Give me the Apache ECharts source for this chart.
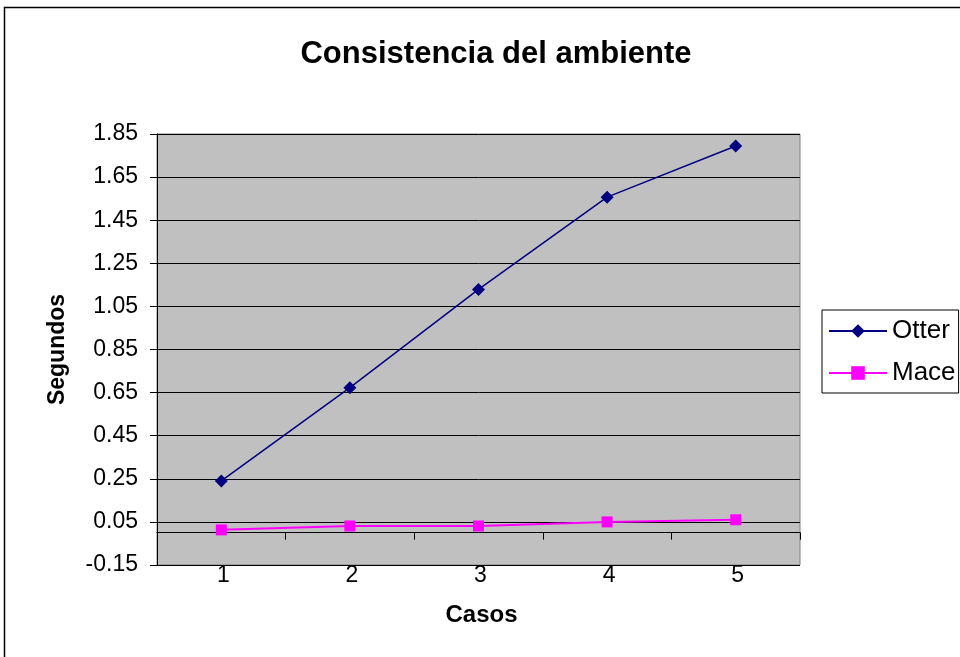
<!DOCTYPE html>
<html>
<head>
<meta charset="utf-8">
<script src="https://cdn.jsdelivr.net/npm/echarts@6/dist/echarts.min.js"></script>
<style>
  html, body { margin: 0; padding: 0; background: #fff; }
  #chart { width: 960px; height: 657px; }
</style>
</head>
<body>
<div id="chart"></div>
<script>
// datos
const casos = ['1', '2', '3', '4', '5']
const otter = [0.24, 0.673, 1.129, 1.557, 1.794]
const mace = [0.013, 0.031, 0.031, 0.05, 0.06]

const font = 'Liberation Sans, Arial, sans-serif'

const chart = echarts.init(document.getElementById('chart'))

chart.setOption({
  animation: false,
  backgroundColor: '#fff',
  textStyle: { fontFamily: font },
  title: {
    text: 'Consistencia del ambiente',
    left: 491,
    top: 34,
    textAlign: 'center',
    textStyle: { fontFamily: font, fontSize: 31, fontWeight: 'bold', color: '#000' }
  },
  // marco exterior
  graphic: [{
    type: 'rect',
    shape: { x: 4.5, y: 7.5, width: 1000, height: 700 },
    style: { fill: 'none', stroke: '#000', lineWidth: 1.5 },
    silent: true
  }],
  legend: {
    orient: 'vertical',
    left: 822,
    top: 310,
    padding: [8, 3, 7, 6],
    itemGap: 16,
    itemWidth: 58,
    itemHeight: 17,
    borderColor: '#000',
    borderWidth: 1,
    textStyle: { fontFamily: font, fontSize: 26, color: '#000' },
    data: ['Otter', 'Mace']
  },
  grid: {
    left: 157,
    right: 160,
    top: 134,
    bottom: 92,
    show: true,
    backgroundColor: '#C0C0C0',
    borderColor: '#808080',
    borderWidth: 1
  },
  xAxis: [
    {
      // eje en cero con marcas
      type: 'category',
      data: casos,
      boundaryGap: true,
      axisLine: { onZero: true, lineStyle: { color: '#000', width: 1 } },
      axisTick: { show: true, length: 7, lineStyle: { color: '#000' } },
      axisLabel: { show: false },
      splitLine: { show: false }
    },
    {
      // etiquetas abajo
      type: 'category',
      data: casos,
      position: 'bottom',
      boundaryGap: true,
      name: 'Casos',
      nameLocation: 'middle',
      nameGap: 38,
      nameTextStyle: { fontFamily: font, fontSize: 24, fontWeight: 'bold', color: '#000', padding: [0, 0, 0, 6] },
      axisLine: { show: false, onZero: false },
      axisTick: { show: false },
      axisLabel: { fontFamily: font, fontSize: 23, color: '#000', margin: -1, padding: [0, 0, 0, 4] },
      splitLine: { show: false }
    }
  ],
  yAxis: {
    type: 'value',
    min: -0.15,
    max: 1.85,
    interval: 0.2,
    name: 'Segundos',
    nameLocation: 'middle',
    nameGap: 88,
    nameTextStyle: { fontFamily: font, fontSize: 23, fontWeight: 'bold', color: '#000' },
    axisLine: { show: true, lineStyle: { color: '#000', width: 1 } },
    axisTick: { show: true, length: 7, lineStyle: { color: '#000' } },
    axisLabel: {
      fontFamily: font,
      fontSize: 23,
      color: '#000',
      margin: 19,
      formatter: v => v.toFixed(2)
    },
    splitLine: { show: true, lineStyle: { color: '#000', width: 1 } }
  },
  series: [
    {
      name: 'Otter',
      type: 'line',
      data: otter,
      symbol: 'diamond',
      symbolSize: 13,
      itemStyle: { color: '#000080' },
      lineStyle: { color: '#000080', width: 1.5 }
    },
    {
      name: 'Mace',
      type: 'line',
      data: mace,
      symbol: 'rect',
      symbolSize: 11,
      itemStyle: { color: '#FF00FF' },
      lineStyle: { color: '#FF00FF', width: 2 }
    }
  ]
})
</script>
</body>
</html>
